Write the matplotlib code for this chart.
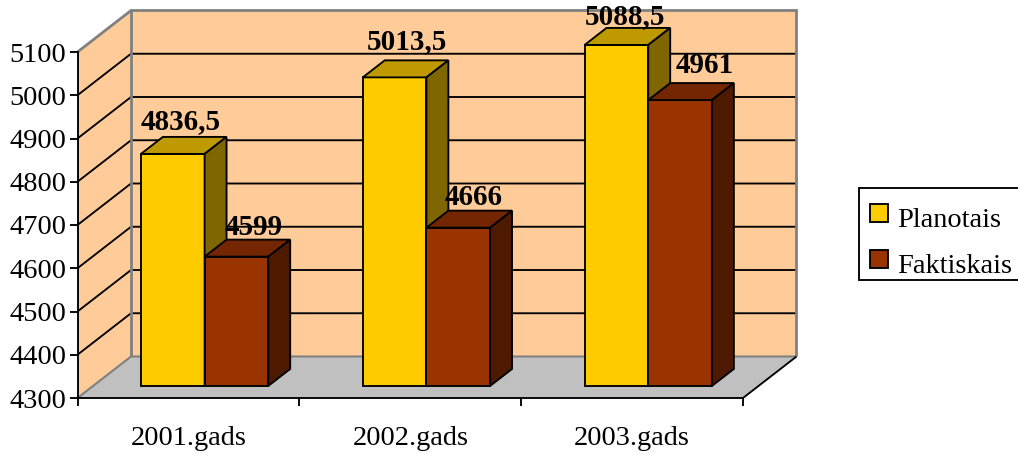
import matplotlib
matplotlib.use("Agg")
import matplotlib.pyplot as plt
from matplotlib.patches import Polygon, Rectangle
from matplotlib.transforms import Affine2D

plt.rcParams['font.family'] = ['Liberation Serif', 'DejaVu Serif']

categories = ['2001.gads', '2002.gads', '2003.gads']
series_names = ['Planotais', 'Faktiskais']
planned = [4836.5, 5013.5, 5088.5]
actual = [4599, 4666, 4961]
planned_labels = ['4836,5', '5013,5', '5088,5']
actual_labels = ['4599', '4666', '4961']
y_ticks = [4300, 4400, 4500, 4600, 4700, 4800, 4900, 5000, 5100]

W, H = 1018, 454
YELLOW = ('#FFCC00', '#BF9900', '#806600')
RED = ('#993300', '#732600', '#4D1A00')
WALL, FLOOR, EDGE = '#FFCC99', '#C0C0C0', '#808080'
LW = 1.35
FS = 20.4

fig = plt.figure(figsize=(W / 100, H / 100), dpi=100)
L, R, T, B = 77.5, 743.0, 52.0, 398.0
ax = fig.add_axes([L / W, 1 - B / H, (R - L) / W, (B - T) / H])
ax.set_xlim(0, 3)
ax.set_ylim(4300, 5100)
ax.patch.set_visible(False)

X_PX = (R - L) / 3
Y_PX = (B - T) / 800
DX, DY = 53.5, 41.5   # full depth of the chart box, in pixels


def P(x, v, d=0.0):
    """Oblique projection: category x, value v, depth d (0 front .. 1 back)."""
    return (x + d * DX / X_PX, v + d * DY / Y_PX)


def face(pts, fc, ec='black', lw=LW, z=1):
    ax.add_patch(Polygon(pts, closed=True, facecolor=fc, edgecolor=ec, linewidth=lw,
                         joinstyle='miter', clip_on=False, zorder=z))


def line(pts, color='black', lw=LW, z=1.5):
    ax.plot(*zip(*pts), color=color, lw=lw, clip_on=False, zorder=z,
            solid_capstyle='butt', solid_joinstyle='miter')


lo, hi = y_ticks[0], y_ticks[-1]
face([P(0, lo, 1), P(3, lo, 1), P(3, hi, 1), P(0, hi, 1)], WALL, 'none', 0, 1)
face([P(0, lo, 0), P(0, lo, 1), P(0, hi, 1), P(0, hi, 0)], WALL, 'none', 0, 1)
face([P(0, lo, 0), P(3, lo, 0), P(3, lo, 1), P(0, lo, 1)], FLOOR, 'none', 0, 1)

for v in y_ticks[1:-1]:
    line([P(0, v, 0), P(0, v, 1), P(3, v, 1)])
line([P(0, lo, 0), P(0, lo, 1), P(3, lo, 1)], EDGE, 1.5)
line([P(0, hi, 0), P(0, hi, 1), P(3, hi, 1), P(3, lo, 1)], EDGE, 2.0)
line([P(0, lo, 1), P(0, hi, 1)], EDGE, 2.0)
line([P(3, lo, 0), P(3, lo, 1)], 'black', LW)

GAP = 0.216
BW = 0.287
D0, D1 = 0.29, 0.70


def bar(x0, value, colors, text, nudge):
    x1 = x0 + BW
    face([P(x0, lo, D0), P(x1, lo, D0), P(x1, value, D0), P(x0, value, D0)], colors[0], z=3)
    face([P(x0, value, D0), P(x1, value, D0), P(x1, value, D1), P(x0, value, D1)], colors[1], z=3)
    face([P(x1, lo, D0), P(x1, lo, D1), P(x1, value, D1), P(x1, value, D0)], colors[2], z=3)
    tx, ty = P(x0 + BW / 2 + nudge[0] / X_PX, value + nudge[1] / Y_PX, D1 - 0.13)
    ax.text(tx, ty, text, ha='center', va='baseline', fontsize=21, fontweight='bold',
            color='black', zorder=6, clip_on=False)


# label offsets from the bar's top centre, in pixels
planned_nudge = [(-7, 13), (-3, 17), (-6, 9)]
actual_nudge = [(2, 10), (0, 11), (10, 15)]

for i in range(len(categories)):
    bar(i + GAP, planned[i], YELLOW, planned_labels[i], planned_nudge[i])
for i in range(len(categories)):
    bar(i + GAP + BW, actual[i], RED, actual_labels[i], actual_nudge[i])

for s in ('top', 'right'):
    ax.spines[s].set_visible(False)
for s in ('left', 'bottom'):
    ax.spines[s].set_linewidth(LW)
    ax.spines[s].set_zorder(2.5)

ax.set_yticks(y_ticks)
ax.set_xticks([0, 1, 2, 3])
ax.set_xticklabels([])
ax.set_xticks([0.5, 1.5, 2.5], minor=True)
ax.set_xticklabels(categories, minor=True)
ax.tick_params(axis='y', length=5.5, width=LW, pad=2.5, labelsize=FS, direction='out')
ax.tick_params(axis='x', which='major', length=5.5, width=LW, direction='out')
ax.tick_params(axis='x', which='minor', length=0, pad=20, labelsize=FS)

# legend box, laid out in pixels from the top left of the figure
px = Affine2D().scale(1, -1).translate(0, H)
fig.add_artist(Rectangle((859, 188), 170, 92, facecolor='white', edgecolor='black',
                         linewidth=LW, transform=px))
for name, colors, sw_top, baseline in zip(series_names, (YELLOW, RED), (203.5, 249.5), (227, 273)):
    fig.add_artist(Rectangle((869.5, sw_top), 18.5, 18.5, facecolor=colors[0], edgecolor='black',
                             linewidth=LW, transform=px))
    fig.text(897, baseline, name, fontsize=FS, color='black', ha='left', va='baseline',
             transform=px)

fig.savefig('out.png', dpi=100)
